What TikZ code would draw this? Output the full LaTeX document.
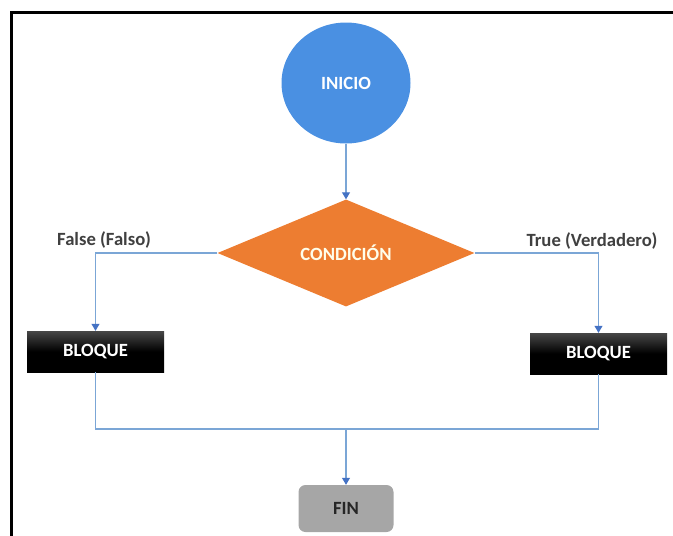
\documentclass[tikz,border=0pt]{standalone}
\usepackage{fontspec}
\setmainfont{Carlito}
\usetikzlibrary{shapes.geometric,arrows.meta}

\definecolor{startblue}{RGB}{74,144,226}
\definecolor{condorange}{RGB}{237,125,49}
\definecolor{endgray}{RGB}{166,166,166}
\definecolor{linkblue}{RGB}{123,166,214}
\definecolor{tipblue}{RGB}{68,114,196}
\definecolor{labelgray}{RGB}{64,64,64}

\tikzset{
  lbl/.style={font=\fontsize{18.67}{20}\selectfont\bfseries},
  startnode/.style={ellipse, fill=startblue, text=white, lbl,
    minimum width=129pt, minimum height=121pt, inner sep=0pt},
  decision/.style={diamond, fill=condorange, text=white!92!yellow, lbl,
    minimum width=257pt, minimum height=90pt, inner sep=0pt},
  blockbox/.style={rectangle, top color=black!72, bottom color=black,
    middle color=black, text=white, lbl,
    minimum width=137pt, minimum height=41pt, inner sep=0pt},
  endbox/.style={rectangle, rounded corners=7pt, fill=endgray,
    text=black!85, lbl, minimum width=95pt, minimum height=47pt, inner sep=0pt},
  branchlabel/.style={lbl, text=labelgray, inner sep=0pt},
  link/.style={draw=linkblue, line width=1.1pt},
  flow/.style={link, -{Triangle[width=8pt,length=7pt,color=tipblue]}},
}

\begin{document}
\begin{tikzpicture}[x=1pt, y=-1pt]
  \useasboundingbox (0,0) rectangle (673,536);

  % page frame (left and top edges)
  \draw[line width=3pt] (11,537) -- (11,12) -- (673,12);

  % shapes
  \node[startnode] (inicio) at (346,83) {INICIO};
  \node[decision]  (cond)   at (346,253) {CONDICIÓN};
  \node[blockbox]  (bl)     at (95.5,351.5) {BLOQUE};
  \node[blockbox]  (br)     at (598.5,353.5) {BLOQUE};
  \node[endbox]    (fin)    at (346,508.5) {FIN};

  % branch labels
  \node[branchlabel] (lblfalse) at (104,240) {False (Falso)};
  \node[branchlabel] (lbltrue)  at (592,241) {True (Verdadero)};

  % connectors
  \coordinate (join) at (346,429);
  \draw[flow] (inicio.south) -- (cond.north);
  \draw[flow] (cond.west) -| (bl.north);
  \draw[flow] (cond.east) -| (br.north);
  \draw[link] (bl.south) |- (join) -| (br.south);
  \draw[flow] (join) -- (fin.north);
\end{tikzpicture}
\end{document}
